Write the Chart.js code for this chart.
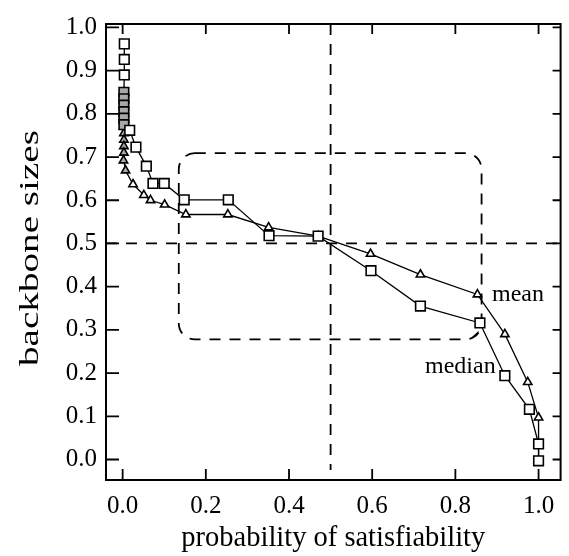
<!DOCTYPE html>
<html>
<head>
<meta charset="utf-8">
<script src="https://cdn.jsdelivr.net/npm/chart.js@4/dist/chart.umd.min.js"></script>
<style>
  html, body { margin: 0; padding: 0; background: #fff; }
  #wrap { width: 569px; height: 556px; }
</style>
</head>
<body>
<div id="wrap"><canvas id="chart" width="569" height="556"></canvas></div>
<script>
// --- DATA ---
const medianX = [0.004, 0.004, 0.004, 0.003, 0.003, 0.003, 0.003, 0.003, 0.003, 0.017, 0.032, 0.057, 0.073, 0.100, 0.148, 0.254, 0.352, 0.470, 0.597, 0.716, 0.859, 0.919, 0.978, 1.000, 1.000];
const medianY = [0.962, 0.926, 0.890, 0.850, 0.835, 0.820, 0.805, 0.790, 0.775, 0.762, 0.723, 0.679, 0.639, 0.639, 0.601, 0.601, 0.518, 0.517, 0.437, 0.355, 0.316, 0.194, 0.116, 0.036, -0.003];

const meanX = [0.004, 0.004, 0.003, 0.003, 0.003, 0.003, 0.003, 0.003, 0.003, 0.003, 0.002, 0.007, 0.025, 0.051, 0.067, 0.101, 0.152, 0.253, 0.351, 0.470, 0.596, 0.716, 0.853, 0.919, 0.974, 1.000, 1.000];
const meanY = [0.850, 0.833, 0.815, 0.800, 0.785, 0.770, 0.755, 0.740, 0.725, 0.710, 0.692, 0.669, 0.637, 0.612, 0.600, 0.590, 0.567, 0.567, 0.537, 0.517, 0.476, 0.428, 0.382, 0.290, 0.179, 0.097, -0.003];

const xTicks = [0.0, 0.2, 0.4, 0.6, 0.8, 1.0];
const yTicks = [0.0, 0.1, 0.2, 0.3, 0.4, 0.5, 0.6, 0.7, 0.8, 0.9, 1.0];

const xRange = [-0.04, 1.053];
const yRange = [-0.0475, 1.008];

// threshold lines and highlighted region (data units)
const thresholdX = 0.5;
const thresholdY = 0.5;
const regionBox = { x0: 0.135, x1: 0.863, y0: 0.278, y1: 0.709 };

const yTitle = 'backbone sizes';
const FONT = '"Liberation Serif", "Times New Roman", serif';

function zip(xs, ys) {
    return xs.map((x, i) => ({ x: x, y: ys[i] }));
}

// points bunched against x = 0 overlap into a grey smear in the original
const markerFill = c => (c.raw && c.raw.x < 0.01 && c.raw.y < 0.86) ? '#a8a8a8' : '#fff';

// --- DECORATIONS PLUGIN ---
const decorations = {
    id: 'decorations',
    beforeDatasetsDraw(chart) {
        const { ctx, chartArea: a, scales: { x, y } } = chart;
        ctx.save();
        ctx.strokeStyle = '#000';
        ctx.lineWidth = 1.8;
        ctx.setLineDash([11, 9]);

        // horizontal y = 0.5
        const py = y.getPixelForValue(thresholdY);
        ctx.beginPath();
        ctx.moveTo(a.left, py);
        ctx.lineTo(a.right, py);
        ctx.stroke();

        // vertical x = 0.5
        const px = x.getPixelForValue(thresholdX);
        ctx.beginPath();
        ctx.moveTo(px, a.top);
        ctx.lineTo(px, a.bottom - 10);
        ctx.stroke();

        // rounded region
        const l = x.getPixelForValue(regionBox.x0);
        const r = x.getPixelForValue(regionBox.x1);
        const t = y.getPixelForValue(regionBox.y1);
        const b = y.getPixelForValue(regionBox.y0);
        ctx.beginPath();
        ctx.roundRect(l, t, r - l, b - t, 16);
        ctx.stroke();
        ctx.restore();
    },
    afterDraw(chart) {
        const { ctx, chartArea: a, scales: { x, y } } = chart;
        ctx.save();
        ctx.strokeStyle = '#000';
        ctx.lineWidth = 2;
        ctx.setLineDash([]);
        ctx.strokeRect(a.left, a.top, a.right - a.left, a.bottom - a.top);

        // inward ticks on all sides
        ctx.lineWidth = 1.8;
        ctx.beginPath();
        xTicks.forEach(v => {
            const p = x.getPixelForValue(v);
            ctx.moveTo(p, a.bottom); ctx.lineTo(p, a.bottom - 11);
            ctx.moveTo(p, a.top); ctx.lineTo(p, a.top + 10);
        });
        yTicks.forEach(v => {
            const p = y.getPixelForValue(v);
            ctx.moveTo(a.left, p); ctx.lineTo(a.left + 13, p);
            ctx.moveTo(a.right, p); ctx.lineTo(a.right - 8, p);
        });
        ctx.stroke();

        // series labels
        ctx.fillStyle = '#000';
        ctx.font = '24px ' + FONT;
        ctx.textBaseline = 'alphabetic';
        ctx.textAlign = 'left';
        ctx.fillText('mean', x.getPixelForValue(0.888), y.getPixelForValue(0.366));
        ctx.fillText('median', x.getPixelForValue(0.727), y.getPixelForValue(0.200));

        // leader from "median" to its point
        ctx.lineWidth = 1.2;
        ctx.beginPath();
        ctx.moveTo(x.getPixelForValue(0.838), y.getPixelForValue(0.280));
        ctx.lineTo(x.getPixelForValue(0.856), y.getPixelForValue(0.296));
        ctx.stroke();

        // y axis title, stretched along its baseline like the scanned original
        ctx.font = '28px ' + FONT;
        ctx.textAlign = 'center';
        ctx.textBaseline = 'middle';
        const w = ctx.measureText(yTitle).width;
        ctx.translate(31, (a.top + a.bottom) / 2 - 4);
        ctx.rotate(-Math.PI / 2);
        ctx.scale(236 / w, 1);
        ctx.fillText(yTitle, 0, 0);
        ctx.restore();
    }
};

// --- CHART ---
const seriesStyle = {
    borderColor: '#000',
    borderWidth: 1.3,
    pointBackgroundColor: markerFill,
    pointBorderColor: '#000',
    pointBorderWidth: 1.6,
    showLine: true,
    tension: 0,
    clip: false
};

new Chart(document.getElementById('chart'), {
    type: 'line',
    data: {
        datasets: [
            Object.assign({ label: 'median', data: zip(medianX, medianY), pointStyle: 'rect', pointRadius: 6.8 }, seriesStyle),
            Object.assign({ label: 'mean', data: zip(meanX, meanY), pointStyle: 'triangle', pointRadius: 4.8 }, seriesStyle)
        ]
    },
    options: {
        responsive: false,
        animation: false,
        devicePixelRatio: 1,
        layout: { padding: { top: 14, right: 4, left: 0, bottom: 0 } },
        plugins: {
            legend: { display: false },
            tooltip: { enabled: false }
        },
        scales: {
            x: {
                type: 'linear',
                min: xRange[0],
                max: xRange[1],
                afterBuildTicks: s => { s.ticks = xTicks.map(v => ({ value: v })); },
                afterFit: s => { s.height = 76; },
                grid: { display: false, drawTicks: false },
                border: { display: false },
                ticks: {
                    padding: 11,
                    color: '#000',
                    font: { family: FONT, size: 25 },
                    callback: v => v.toFixed(1),
                    maxRotation: 0
                },
                title: {
                    display: true,
                    text: 'probability of satisfiability',
                    color: '#000',
                    font: { family: FONT, size: 28.5 },
                    padding: { top: 0, bottom: 0 }
                }
            },
            y: {
                type: 'linear',
                min: yRange[0],
                max: yRange[1],
                afterBuildTicks: s => { s.ticks = yTicks.map(v => ({ value: v })); },
                afterFit: s => { s.width = 106; },
                grid: { display: false, drawTicks: false },
                border: { display: false },
                ticks: {
                    padding: 9,
                    color: '#000',
                    font: { family: FONT, size: 25 },
                    callback: v => v.toFixed(1)
                },
                title: { display: false }
            }
        }
    },
    plugins: [decorations]
});
</script>
</body>
</html>
